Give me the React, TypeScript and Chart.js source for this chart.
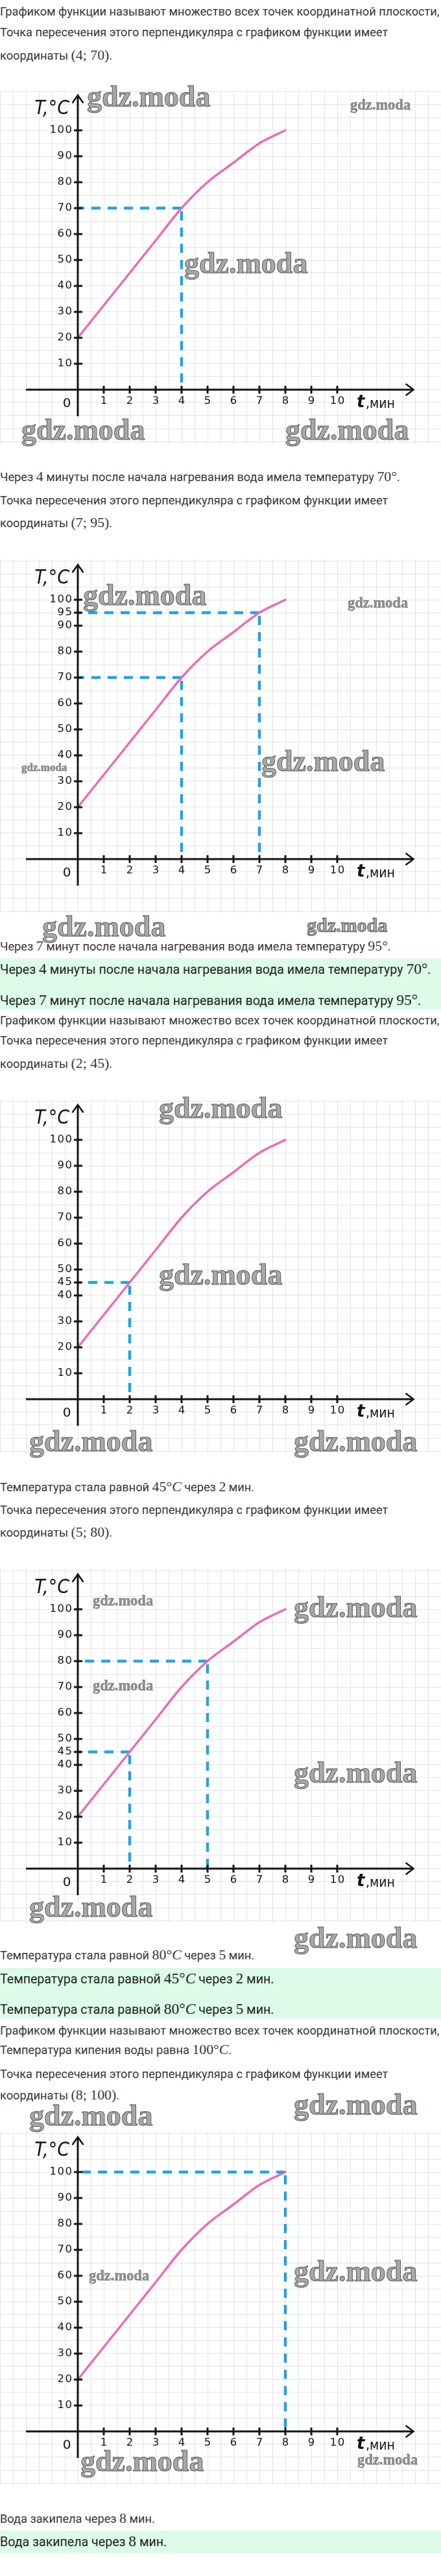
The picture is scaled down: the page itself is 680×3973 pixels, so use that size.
import React, { useEffect, useLayoutEffect, useRef } from 'react';
import { Chart, registerables } from 'chart.js';

Chart.register(...registerables);

// ---------- data ----------
const TIME_MIN = [0, 1, 2, 3, 4, 5, 6, 7, 8];
const TEMP_C = [20, 32.5, 45, 57.5, 70, 80, 87.5, 95, 100];
const X_TICKS = [1, 2, 3, 4, 5, 6, 7, 8, 9, 10];
const Y_TICKS_A = [10, 20, 30, 40, 50, 60, 70, 80, 90, 100];
const Y_TICKS_95 = [10, 20, 30, 40, 50, 60, 70, 80, 90, 95, 100];
const Y_TICKS_45 = [10, 20, 30, 40, 45, 50, 60, 70, 80, 90, 100];
const GUIDES_1: [number, number][] = [[4, 70]];
const GUIDES_2: [number, number][] = [[4, 70], [7, 95]];
const GUIDES_3: [number, number][] = [[2, 45]];
const GUIDES_4: [number, number][] = [[2, 45], [5, 80]];
const GUIDES_5: [number, number][] = [[8, 100]];

// ---------- scale ranges ----------
const X_MIN = -3;
const X_MAX = 14;
const Y_MIN = -20.75;
const Y_MAX = 115.5;
const X_AXIS_FROM = -2;
const X_AXIS_TO = 12.94;
const Y_AXIS_FROM = -10.25;
const Y_AXIS_TO = 113.5;

// ---------- styles ----------
const PINK = '#ee6ab3';
const BLUE = '#1ea5e2';
const GRID = '#e4e4e4';
const INK = '#141414';
const TXT = '#363636';
const GREEN_BG = '#dcfbe8';
const CHART_W = 680;
const CHART_H = 545;

const CHARTS = [
  { top: 139, yTicks: Y_TICKS_A, guides: GUIDES_1 },
  { top: 863, yTicks: Y_TICKS_95, guides: GUIDES_2 },
  { top: 1696, yTicks: Y_TICKS_45, guides: GUIDES_3 },
  { top: 2420, yTicks: Y_TICKS_45, guides: GUIDES_4 },
  { top: 3288, yTicks: Y_TICKS_A, guides: GUIDES_5 },
];

function makeAxesPlugin(yTicks: number[]) {
  return {
    id: 'heatAxes',
    afterDatasetsDraw(chart: any) {
      const ctx: CanvasRenderingContext2D = chart.ctx;
      const xs = chart.scales.x;
      const ys = chart.scales.y;
      const px = (t: number) => xs.getPixelForValue(t);
      const py = (v: number) => ys.getPixelForValue(v);
      const ox = px(0);
      const oy = py(0);
      ctx.save();
      ctx.strokeStyle = INK;
      ctx.fillStyle = INK;
      ctx.lineCap = 'butt';
      ctx.lineJoin = 'miter';
      // x axis
      const xEnd = px(X_AXIS_TO);
      ctx.lineWidth = 3;
      ctx.beginPath();
      ctx.moveTo(px(X_AXIS_FROM), oy);
      ctx.lineTo(xEnd - 1, oy);
      ctx.stroke();
      ctx.lineWidth = 2.5;
      ctx.beginPath();
      ctx.moveTo(xEnd - 12, oy - 9);
      ctx.lineTo(xEnd, oy);
      ctx.lineTo(xEnd - 12, oy + 9);
      ctx.stroke();
      // y axis
      const yEnd = py(Y_AXIS_TO);
      ctx.lineWidth = 3;
      ctx.beginPath();
      ctx.moveTo(ox, py(Y_AXIS_FROM));
      ctx.lineTo(ox, yEnd + 1);
      ctx.stroke();
      ctx.lineWidth = 2.5;
      ctx.beginPath();
      ctx.moveTo(ox - 8.5, yEnd + 12);
      ctx.lineTo(ox, yEnd);
      ctx.lineTo(ox + 8.5, yEnd + 12);
      ctx.stroke();
      // tick marks
      ctx.lineWidth = 3;
      X_TICKS.forEach((t) => {
        const x = px(t);
        ctx.beginPath();
        ctx.moveTo(x, oy - 6);
        ctx.lineTo(x, oy + 6);
        ctx.stroke();
      });
      yTicks.forEach((v) => {
        const y = py(v);
        ctx.beginPath();
        ctx.moveTo(ox - 6, y);
        ctx.lineTo(ox + 7, y);
        ctx.stroke();
      });
      // tick labels
      ctx.font = '16.5px "DejaVu Sans", sans-serif';
      (ctx as any).letterSpacing = '1.5px';
      ctx.textBaseline = 'middle';
      ctx.textAlign = 'center';
      X_TICKS.forEach((t) => ctx.fillText(String(t), px(t) + 0.75, oy + 18));
      ctx.textAlign = 'right';
      yTicks.forEach((v) => ctx.fillText(String(v), ox - 7.5, py(v)));
      (ctx as any).letterSpacing = '0px';
      // origin
      ctx.textAlign = 'center';
      ctx.font = '20px "DejaVu Sans", sans-serif';
      ctx.fillText('0', ox - 17, oy + 22);
      // axis titles
      ctx.textBaseline = 'alphabetic';
      ctx.textAlign = 'right';
      ctx.font = 'italic 30px "DejaVu Sans Condensed", "DejaVu Sans", sans-serif';
      ctx.fillText('T,°C', ox - 13, oy - 425);
      ctx.textAlign = 'left';
      ctx.font = 'italic bold 26px "DejaVu Sans", sans-serif';
      ctx.fillText('t', ox + 430, oy + 27);
      ctx.font = '21px "DejaVu Sans Condensed", "DejaVu Sans", sans-serif';
      ctx.fillText(',мин', ox + 444, oy + 28);
      ctx.restore();
    },
  };
}

function HeatChart({ top, yTicks, guides }: { top: number; yTicks: number[]; guides: [number, number][] }) {
  const ref = useRef<HTMLCanvasElement>(null);
  useEffect(() => {
    const canvas = ref.current;
    if (!canvas) return;
    const datasets: any[] = [
      {
        data: TIME_MIN.map((t, i) => ({ x: t, y: TEMP_C[i] })),
        borderColor: PINK,
        borderWidth: 3.5,
        borderCapStyle: 'round',
        pointRadius: 0,
        cubicInterpolationMode: 'monotone',
        fill: false,
      },
    ];
    guides.forEach(([t, v]) => {
      datasets.push({
        data: [{ x: t, y: v }, { x: 0, y: v }],
        borderColor: BLUE,
        borderWidth: 4.5,
        borderDash: [14, 11],
        pointRadius: 0,
        tension: 0,
        fill: false,
      });
      datasets.push({
        data: [{ x: t, y: v }, { x: t, y: 0 }],
        borderColor: BLUE,
        borderWidth: 4.5,
        borderDash: [14, 11],
        borderDashOffset: -5,
        pointRadius: 0,
        tension: 0,
        fill: false,
      });
    });
    const chart = new Chart(canvas, {
      type: 'line',
      data: { datasets },
      options: {
        animation: false,
        responsive: false,
        maintainAspectRatio: false,
        events: [],
        layout: { padding: 0 },
        plugins: { legend: { display: false }, tooltip: { enabled: false } },
        scales: {
          x: {
            type: 'linear',
            min: X_MIN,
            max: X_MAX,
            ticks: { display: false, stepSize: 0.5, includeBounds: false },
            grid: { color: GRID, lineWidth: 1, drawTicks: false },
            border: { display: false },
          },
          y: {
            type: 'linear',
            min: Y_MIN,
            max: Y_MAX,
            ticks: { display: false, stepSize: 5, includeBounds: false },
            grid: { color: GRID, lineWidth: 1, drawTicks: false },
            border: { display: false },
          },
        },
      } as any,
      plugins: [makeAxesPlugin(yTicks)],
    });
    return () => chart.destroy();
  }, []);
  return (
    <canvas
      ref={ref}
      width={CHART_W}
      height={CHART_H}
      style={{ position: 'absolute', left: 0, top, width: CHART_W, height: CHART_H, display: 'block' }}
    />
  );
}

const M = ({ children }: { children: React.ReactNode }) => (
  <span style={{ fontFamily: '"Liberation Serif", serif', fontSize: '1.2em', lineHeight: 0 }}>{children}</span>
);
const MI = ({ children }: { children: React.ReactNode }) => (
  <span style={{ fontFamily: '"Liberation Serif", serif', fontSize: '1.2em', lineHeight: 0, fontStyle: 'italic' }}>{children}</span>
);

function TextLine({ base, green, children }: { base: number; green?: boolean; children: React.ReactNode }) {
  const F = green ? 19.6 : 18.2;
  const L = 28;
  const B = (L - 1.172 * F) / 2 + 0.928 * F;
  return (
    <div
      style={{
        position: 'absolute',
        left: 0,
        top: base - B,
        height: L,
        lineHeight: `${L}px`,
        fontSize: F,
        fontFamily: 'Roboto, sans-serif',
        color: green ? '#222' : TXT,
        whiteSpace: 'nowrap',
        margin: 0,
        padding: 0,
      }}
    >
      {children}
    </div>
  );
}

const S_GRAPH = 'Графиком функции называют множество всех точек координатной плоскости,';
const S_POINT = 'Точка пересечения этого перпендикуляра с графиком функции имеет';

const L_70 = (
  <>
    Через <M>4</M> минуты после начала нагревания вода имела температуру <M>70°</M>.
  </>
);
const L_95 = (
  <>
    Через <M>7</M> минут после начала нагревания вода имела температуру <M>95°</M>.
  </>
);
const L_45 = (
  <>
    Температура стала равной <M>45°</M><MI>C</MI> через <M>2</M> мин.
  </>
);
const L_80 = (
  <>
    Температура стала равной <M>80°</M><MI>C</MI> через <M>5</M> мин.
  </>
);
const L_8 = (
  <>
    Вода закипела через <M>8</M> мин.
  </>
);

const LINES: { base: number; green?: boolean; node: React.ReactNode }[] = [
  { base: 24, node: S_GRAPH },
  { base: 56, node: S_POINT },
  { base: 92, node: <>координаты <M>(4; 70)</M>.</> },
  { base: 742.7, node: L_70 },
  { base: 778, node: S_POINT },
  { base: 813, node: <>координаты <M>(7; 95)</M>.</> },
  { base: 1466, node: L_95 },
  { base: 1502.7, green: true, node: L_70 },
  { base: 1550.7, green: true, node: L_95 },
  { base: 1580.7, node: S_GRAPH },
  { base: 1611.7, node: S_POINT },
  { base: 1647.3, node: <>координаты <M>(2; 45)</M>.</> },
  { base: 2300, node: L_45 },
  { base: 2335, node: S_POINT },
  { base: 2370, node: <>координаты <M>(5; 80)</M>.</> },
  { base: 3022.7, node: L_80 },
  { base: 3060, green: true, node: L_45 },
  { base: 3106.7, green: true, node: L_80 },
  { base: 3138.3, node: S_GRAPH },
  { base: 3168.3, node: <>Температура кипения воды равна <M>100°</M><MI>C</MI>.</> },
  { base: 3205, node: S_POINT },
  { base: 3238.3, node: <>координаты <M>(8; 100)</M>.</> },
  { base: 3891.7, node: L_8 },
  { base: 3927.3, green: true, node: L_8 },
];

const GREEN_BOXES = [
  { top: 1478, bottom: 1557 },
  { top: 3035, bottom: 3113 },
  { top: 3903, bottom: 3938 },
];

// watermark layout: left x, glyph top y, font size
const WATERMARKS: [number, number, number][] = [
  [134, 133, 46], [540, 155, 22.5], [284, 390, 46], [33, 647, 46], [440, 647, 46],
  [128, 902, 46], [536, 923, 22.5], [33, 1178, 17], [403, 1158, 46], [65, 1413, 46], [473, 1417, 30],
  [245, 1693, 46], [245, 1950, 46], [45, 2207, 46], [453, 2207, 46],
  [143, 2462, 22.5], [453, 2463, 46], [143, 2593, 22.5], [453, 2718, 46], [45, 2925, 46],
  [453, 2973, 46], [453, 3230, 46], [45, 3247, 46],
  [137, 3503, 22.5], [453, 3487, 46], [124, 3780, 46], [551, 3787, 22.5],
];

function Watermark({ x, y, size }: { x: number; y: number; size: number }) {
  const big = size > 28;
  return (
    <div
      style={{
        position: 'absolute',
        left: x,
        top: y - 0.16 * size,
        fontFamily: '"Liberation Serif", serif',
        fontWeight: 700,
        fontSize: size,
        lineHeight: `${size}px`,
        color: big ? '#a8a8a8' : '#909090',
        WebkitTextStroke: big ? '1px #5a5a5a' : '0.4px #606060',
        whiteSpace: 'nowrap',
        pointerEvents: 'none',
      }}
    >
      gdz.moda
    </div>
  );
}

export default function App() {
  useLayoutEffect(() => {
    document.body.style.margin = '0';
    document.documentElement.style.overflow = 'hidden';
  }, []);
  return (
    <div
      style={{
        position: 'absolute',
        left: 0,
        top: 0,
        width: 680,
        height: 3973,
        overflow: 'hidden',
        background: '#fff',
      }}
    >
      {GREEN_BOXES.map((g, i) => (
        <div
          key={'g' + i}
          style={{ position: 'absolute', left: 0, top: g.top, width: 680, height: g.bottom - g.top, background: GREEN_BG }}
        />
      ))}
      {CHARTS.map((c, i) => (
        <HeatChart key={'c' + i} top={c.top} yTicks={c.yTicks} guides={c.guides} />
      ))}
      {LINES.map((l, i) => (
        <TextLine key={'l' + i} base={l.base} green={l.green}>
          {l.node}
        </TextLine>
      ))}
      {WATERMARKS.map(([x, y, s], i) => (
        <Watermark key={'w' + i} x={x} y={y} size={s} />
      ))}
    </div>
  );
}
